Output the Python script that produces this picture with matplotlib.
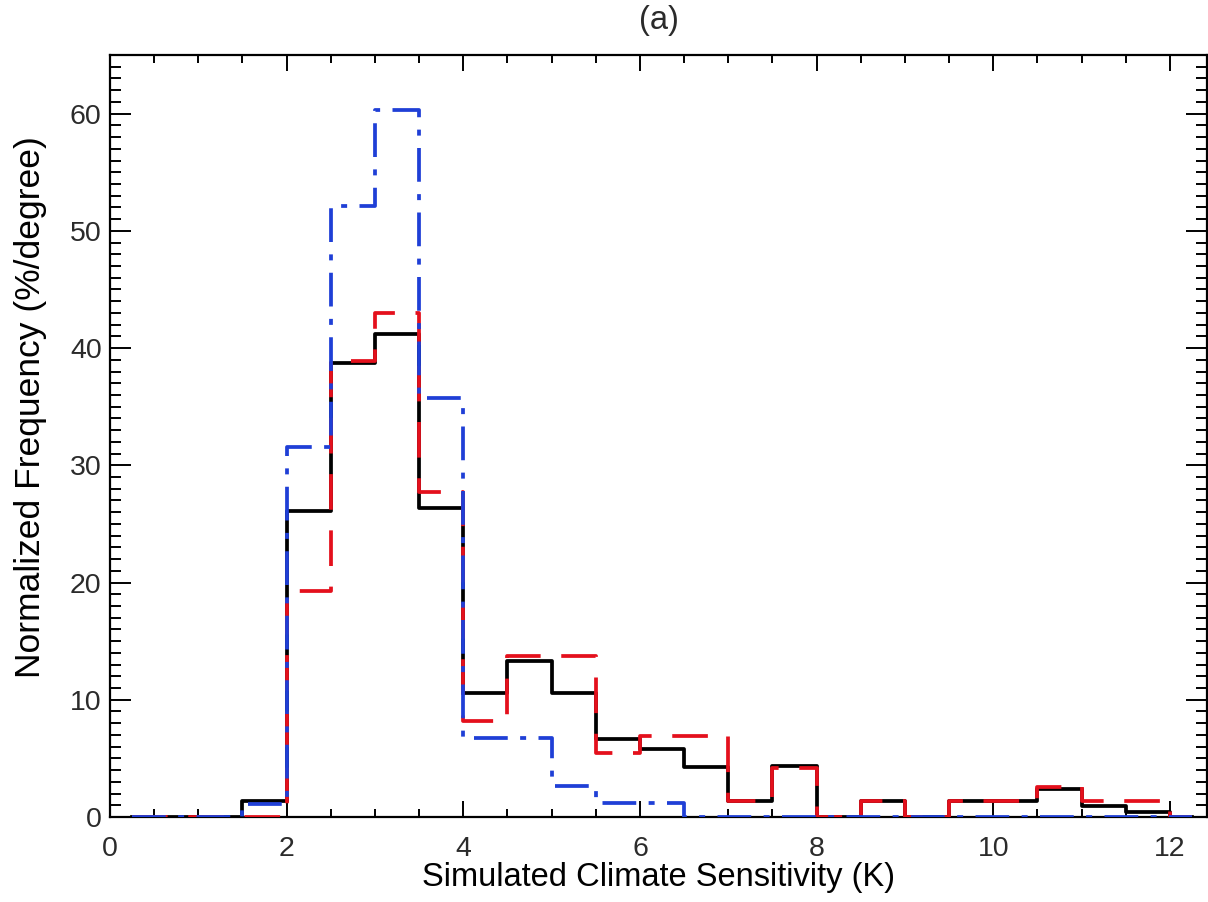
"""Normalized frequency histograms of simulated climate sensitivity, panel (a)."""

import matplotlib
matplotlib.use("Agg")
import matplotlib.pyplot as plt
from matplotlib.ticker import MultipleLocator

# Bin centres (K), bins 0.5 K wide from 0 to 12.5 K
bin_centers = [0.25, 0.75, 1.25, 1.75, 2.25, 2.75, 3.25, 3.75, 4.25, 4.75,
               5.25, 5.75, 6.25, 6.75, 7.25, 7.75, 8.25, 8.75, 9.25, 9.75,
               10.25, 10.75, 11.25, 11.75, 12.25]

# Normalized frequency (%/degree)
freq_black = [0, 0, 0, 1.35, 26.1, 38.7, 41.2, 26.4, 10.6, 13.3,
              10.6, 6.65, 5.8, 4.25, 1.35, 4.35, 0, 1.4, 0, 1.4,
              1.4, 2.35, 0.9, 0.45, 0]
freq_red = [0, 0, 0, 0, 19.3, 38.9, 43.0, 27.7, 8.2, 13.75,
            13.75, 5.45, 6.9, 6.9, 1.35, 4.2, 0, 1.4, 0, 1.4,
            1.4, 2.6, 1.4, 1.4, 0]
freq_blue = [0, 0, 0, 1.1, 31.6, 52.1, 60.3, 35.7, 6.75, 6.75,
             2.65, 1.2, 1.2, 0, 0, 0, 0, 0, 0, 0,
             0, 0, 0, 0, 0]

plt.rcParams.update({
    "font.family": ["Liberation Sans", "DejaVu Sans"],
    "text.color": "#2b2b2b",
    "xtick.color": "black",
    "ytick.color": "black",
    "xtick.labelcolor": "#2b2b2b",
    "ytick.labelcolor": "#2b2b2b",
})

W, H = 1208, 902
fig = plt.figure(figsize=(W / 100, H / 100), dpi=100)
ax = fig.add_axes([110 / W, (H - 817) / H, 1097 / W, 762 / H])

lw = 2.7
ax.step(bin_centers, freq_black, where="mid", color="black", linewidth=lw,
        zorder=3)
ax.step(bin_centers, freq_red, where="mid", color="#e4101c", linewidth=lw,
        linestyle=(0, (9.5, 5.5)), zorder=4)
ax.step(bin_centers, freq_blue, where="mid", color="#1f3fd6", linewidth=lw,
        linestyle=(0, (9, 3.3, 1.6, 3.3)), zorder=5)

ax.set_xlim(0, 12.42)
ax.set_ylim(0, 65)

ax.xaxis.set_major_locator(MultipleLocator(2))
ax.xaxis.set_minor_locator(MultipleLocator(0.5))
ax.yaxis.set_major_locator(MultipleLocator(10))
ax.yaxis.set_minor_locator(MultipleLocator(1))

ax.tick_params(axis="both", which="both", direction="in", top=True, right=True, width=1.4)
ax.tick_params(axis="x", which="major", length=11.5, pad=14, labelsize=20.5)
ax.tick_params(axis="x", which="minor", length=6)
ax.tick_params(axis="y", which="major", length=15, pad=6, labelsize=20.5)
ax.tick_params(axis="y", which="minor", length=8)

for sp in ax.spines.values():
    sp.set_linewidth(1.6)

ax.set_xlabel("Simulated Climate Sensitivity (K)", fontsize=23.5, labelpad=0)
ax.set_ylabel("Normalized Frequency (%/degree)", fontsize=25.5)
ax.yaxis.set_label_coords(-0.057, 0.538)
ax.set_title("(a)", fontsize=23.5, pad=19)

fig.savefig("out.png", dpi=100)
